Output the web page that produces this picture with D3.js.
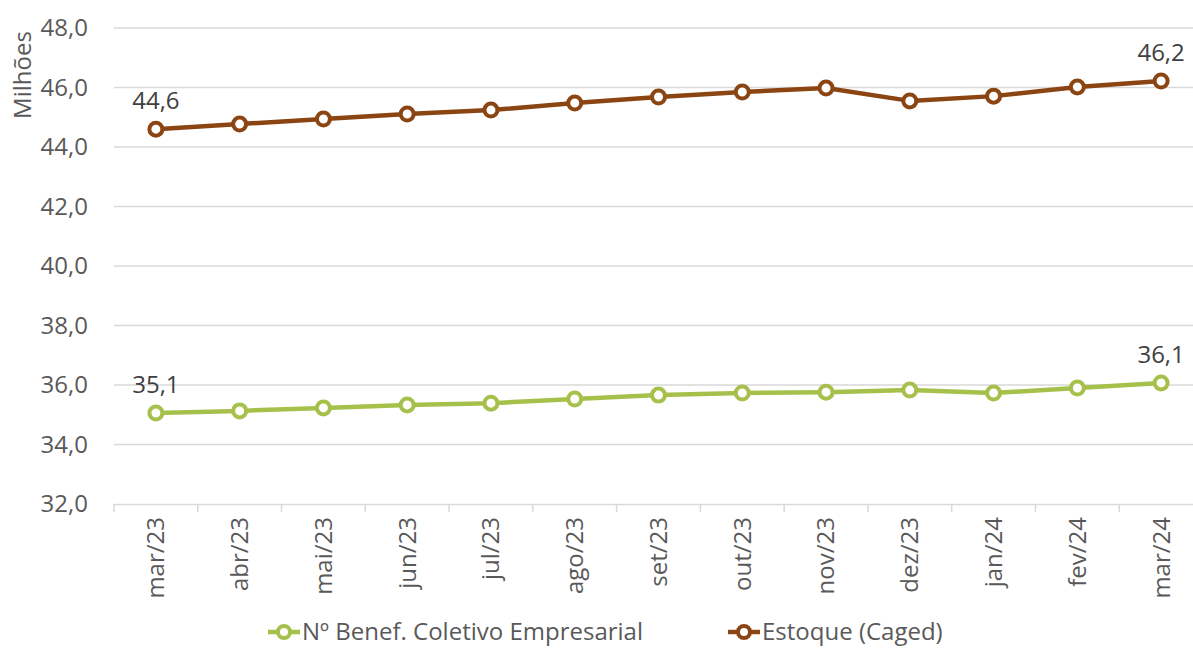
<!DOCTYPE html>
<html>
<head>
<meta charset="utf-8">
<script src="https://cdn.jsdelivr.net/npm/d3@7"></script>
<style>
  body { margin: 0; background: #fff; }
</style>
</head>
<body>
<div id="chart-area"></div>
<script>
const months = ["mar/23", "abr/23", "mai/23", "jun/23", "jul/23", "ago/23", "set/23",
  "out/23", "nov/23", "dez/23", "jan/24", "fev/24", "mar/24"];
const benefColetivo = [35.06, 35.13, 35.23, 35.33, 35.39, 35.53, 35.66, 35.73, 35.76, 35.83, 35.73, 35.90, 36.07];
const estoqueCaged = [44.60, 44.77, 44.94, 45.11, 45.24, 45.48, 45.68, 45.85, 45.98, 45.55, 45.71, 46.02, 46.22];
const yTicks = [32, 34, 36, 38, 40, 42, 44, 46, 48];

const svgWidth = 1193, svgHeight = 648;
const margins = { top: 28, left: 114, right: -10, bottom: 144 };
const fontFamily = "'Open Sans', sans-serif";
const fontSize = 24;
const textColor = "#595959";
const colors = { green: "#a6c14b", brown: "#8b4513" };

const canvas = d3.select("#chart-area")
  .append("svg")
    .attr("width", svgWidth)
    .attr("height", svgHeight);

const x = d3.scaleBand()
  .domain(months)
  .range([margins.left, svgWidth - margins.right]);
const y = d3.scaleLinear()
  .domain([32, 48])
  .range([svgHeight - margins.bottom, margins.top]);

// gridlines
canvas.append("g")
  .selectAll("line")
  .data(yTicks.slice(1))
  .join("line")
    .attr("x1", margins.left)
    .attr("x2", svgWidth)
    .attr("y1", d => y(d))
    .attr("y2", d => y(d))
    .attr("stroke", "#d9d9d9")
    .attr("stroke-width", 1.5);

// y axis labels
const yAxis = canvas.append("g")
  .attr("transform", `translate(${margins.left},0)`)
  .call(d3.axisLeft(y).tickValues(yTicks).tickFormat(d => d3.format(".1f")(d).replace(".", ",")).tickSize(0).tickPadding(26));
yAxis.select(".domain").remove();
yAxis.selectAll("text")
  .attr("font-family", fontFamily)
  .attr("font-size", fontSize)
  .attr("fill", textColor);

// x axis
const xAxis = canvas.append("g")
  .attr("transform", `translate(0,${y(32)})`)
  .call(d3.axisBottom(x).tickSize(0).tickSizeOuter(0));
xAxis.select(".domain")
  .attr("stroke", "#d9d9d9")
  .attr("stroke-width", 1.5);
xAxis.selectAll(".tick text")
  .attr("font-family", fontFamily)
  .attr("font-size", fontSize)
  .attr("fill", textColor)
  .attr("transform", "rotate(-90)")
  .attr("text-anchor", "end")
  .attr("x", -13)
  .attr("y", 0)
  .attr("dy", "0.35em");
// boundary ticks
canvas.append("g")
  .selectAll("line")
  .data(months)
  .join("line")
    .attr("x1", d => x(d))
    .attr("x2", d => x(d))
    .attr("y1", y(32))
    .attr("y2", y(32) + 8)
    .attr("stroke", "#d9d9d9")
    .attr("stroke-width", 1.5);

// y title
canvas.append("text")
  .text("Milhões")
  .attr("transform", `translate(31,75) rotate(-90)`)
  .attr("text-anchor", "middle")
  .attr("font-family", fontFamily)
  .attr("font-size", fontSize)
  .attr("fill", textColor);

const cx = d => x(d) + x.bandwidth() / 2;
const line = d3.line()
  .x(d => cx(d.m))
  .y(d => y(d.v));

const series = [
  { name: "Nº Benef. Coletivo Empresarial", values: benefColetivo, color: colors.green },
  { name: "Estoque (Caged)", values: estoqueCaged, color: colors.brown }
];

series.forEach(s => {
  const pts = months.map((m, i) => ({ m, v: s.values[i] }));
  canvas.append("path")
    .datum(pts)
    .attr("fill", "none")
    .attr("stroke", s.color)
    .attr("stroke-width", 4.5)
    .attr("stroke-linejoin", "round")
    .attr("d", line);
  canvas.append("g")
    .selectAll("circle")
    .data(pts)
    .join("circle")
      .attr("cx", d => cx(d.m))
      .attr("cy", d => y(d.v))
      .attr("r", 6.5)
      .attr("fill", "#fff")
      .attr("stroke", s.color)
      .attr("stroke-width", 4);
  // first and last labels
  [pts[0], pts[pts.length - 1]].forEach(p => {
    canvas.append("text")
      .text(d3.format(".1f")(p.v).replace(".", ","))
      .attr("x", cx(p.m))
      .attr("y", y(p.v) - 20)
      .attr("text-anchor", "middle")
      .attr("font-family", fontFamily)
      .attr("font-size", fontSize)
      .attr("fill", "#404040");
  });
});

// legend
const legendPos = [268, 728];
series.forEach((s, i) => {
  const g = canvas.append("g").attr("transform", `translate(${legendPos[i]},632)`);
  g.append("line")
    .attr("x1", 0).attr("x2", 32)
    .attr("y1", 0).attr("y2", 0)
    .attr("stroke", s.color)
    .attr("stroke-width", 4.5);
  g.append("circle")
    .attr("cx", 16).attr("cy", 0).attr("r", 6)
    .attr("fill", "#fff")
    .attr("stroke", s.color)
    .attr("stroke-width", 4);
  g.append("text")
    .text(s.name)
    .attr("x", 34)
    .attr("y", 0)
    .attr("dy", "0.35em")
    .attr("font-family", fontFamily)
    .attr("font-size", fontSize)
    .attr("fill", textColor);
});
</script>
</body>
</html>
